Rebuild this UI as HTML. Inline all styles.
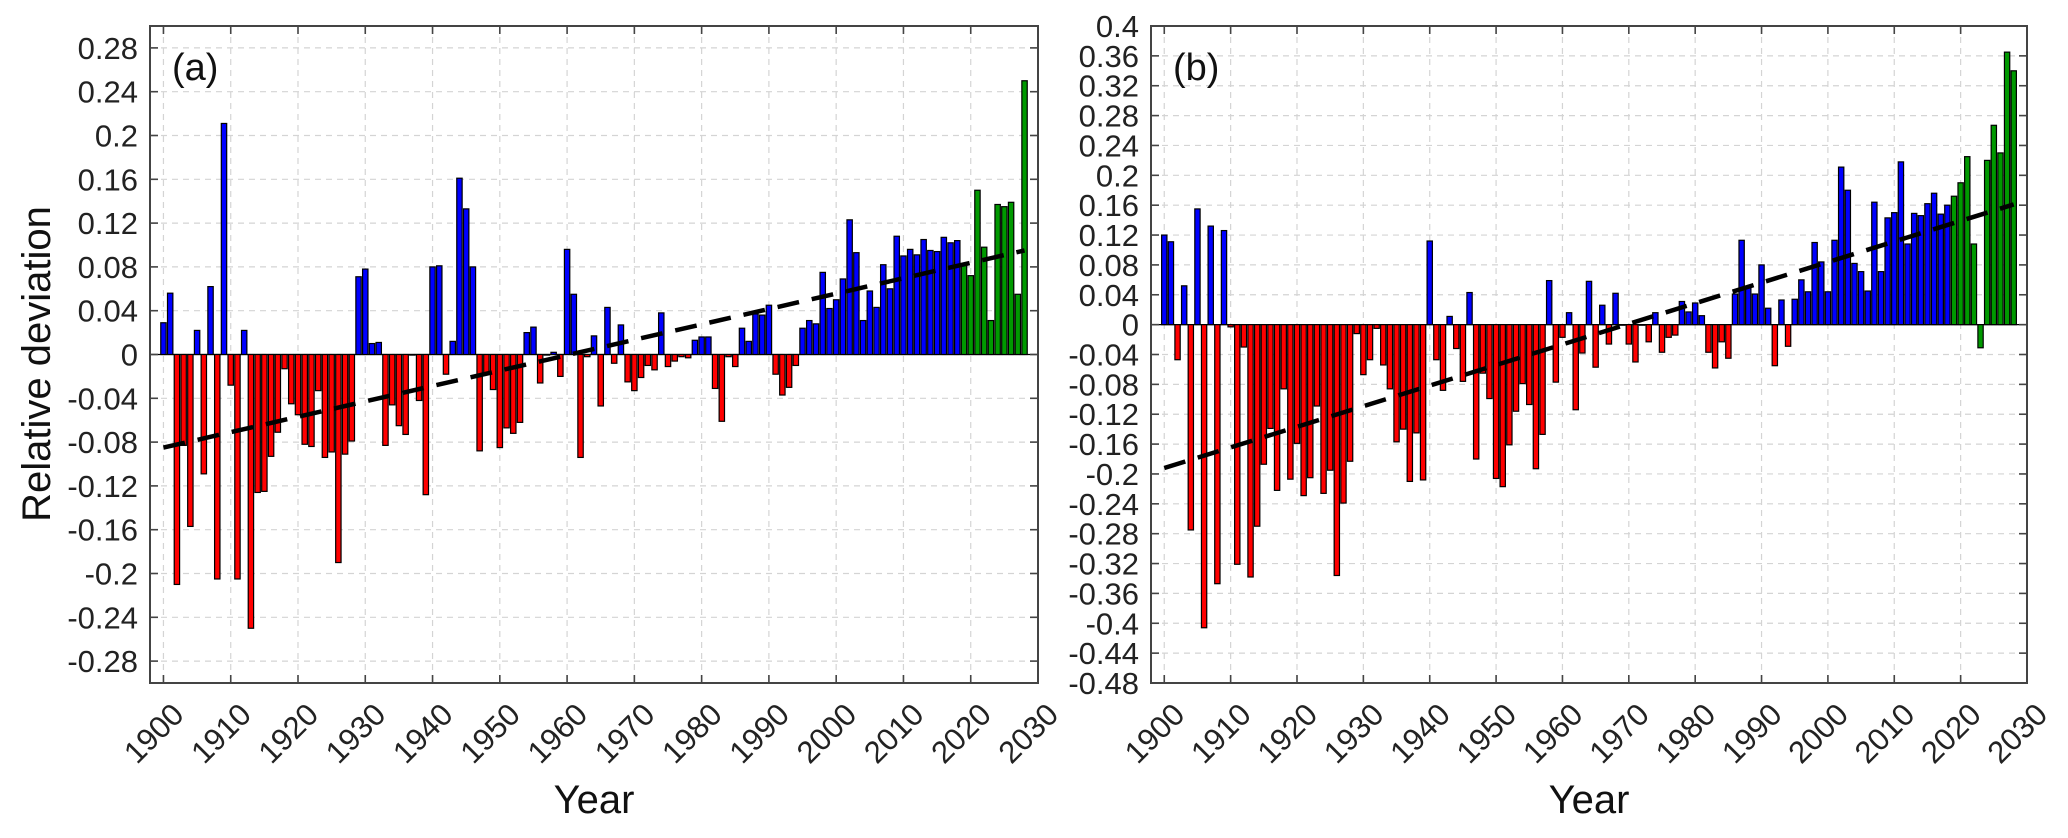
<!DOCTYPE html>
<html><head><meta charset="utf-8">
<style>
html,body{margin:0;padding:0;background:#fff;}
svg{display:block;font-family:"Liberation Sans",sans-serif;}
</style></head>
<body>
<svg id="fig" width="2068" height="838" viewBox="0 0 2068 838" xmlns="http://www.w3.org/2000/svg"></svg>
<script>
const years = [];
for (let y = 1900; y <= 2028; y++) years.push(y);
const greenStart = 2019;
const xTickYears = [1900,1910,1920,1930,1940,1950,1960,1970,1980,1990,2000,2010,2020,2030];
const xTickLabels = ["1900","1910","1920","1930","1940","1950","1960","1970","1980","1990","2000","2010","2020","2030"];
const valuesA = [
0.029,0.056,-0.21,-0.083,-0.157,0.022,-0.109,0.062,-0.205,0.211,
-0.028,-0.205,0.022,-0.25,-0.126,-0.125,-0.093,-0.071,-0.013,-0.045,
-0.055,-0.082,-0.084,-0.033,-0.094,-0.089,-0.19,-0.091,-0.079,0.071,
0.078,0.010,0.011,-0.083,-0.046,-0.065,-0.073,0.0,-0.042,-0.128,
0.080,0.081,-0.018,0.012,0.161,0.133,0.080,-0.088,-0.017,-0.032,
-0.085,-0.067,-0.072,-0.062,0.020,0.025,-0.026,0.0,0.002,-0.020,
0.096,0.055,-0.094,-0.002,0.017,-0.047,0.043,-0.008,0.027,-0.025,
-0.033,-0.021,-0.010,-0.014,0.038,-0.011,-0.006,-0.002,-0.003,0.013,
0.016,0.016,-0.031,-0.061,-0.002,-0.011,0.024,0.012,0.037,0.036,
0.045,-0.018,-0.037,-0.030,-0.010,0.024,0.031,0.028,0.075,0.042,
0.050,0.069,0.123,0.093,0.031,0.058,0.043,0.082,0.060,0.108,
0.090,0.096,0.091,0.105,0.095,0.094,0.107,0.102,0.104,0.082,
0.072,0.150,0.098,0.031,0.137,0.135,0.139,0.055,0.250];
const valuesB = [
0.120,0.111,-0.047,0.052,-0.275,0.155,-0.406,0.132,-0.347,0.126,
-0.003,-0.321,-0.030,-0.338,-0.270,-0.187,-0.139,-0.222,-0.086,-0.207,
-0.159,-0.229,-0.205,-0.109,-0.226,-0.195,-0.336,-0.239,-0.183,-0.012,
-0.067,-0.047,-0.005,-0.054,-0.086,-0.157,-0.140,-0.210,-0.145,-0.208,
0.112,-0.047,-0.088,0.011,-0.032,-0.076,0.043,-0.180,-0.065,-0.099,
-0.206,-0.217,-0.161,-0.116,-0.079,-0.107,-0.193,-0.147,0.059,-0.077,
-0.017,0.016,-0.114,-0.038,0.058,-0.057,0.026,-0.026,0.042,0.0,
-0.026,-0.050,0.0,-0.023,0.016,-0.037,-0.017,-0.014,0.031,0.017,
0.029,0.012,-0.037,-0.058,-0.023,-0.045,0.041,0.113,0.051,0.041,
0.080,0.022,-0.055,0.033,-0.029,0.034,0.060,0.044,0.110,0.084,
0.044,0.113,0.211,0.180,0.082,0.071,0.045,0.164,0.071,0.143,
0.150,0.218,0.108,0.149,0.146,0.162,0.176,0.148,0.160,0.172,
0.190,0.225,0.108,-0.031,0.220,0.267,0.230,0.365,0.340];
const trendYears = [1900, 2028];
const trendA = [-0.085, 0.095];
const trendB = [-0.192, 0.161];
const yTicksA = [-0.28,-0.24,-0.2,-0.16,-0.12,-0.08,-0.04,0,0.04,0.08,0.12,0.16,0.2,0.24,0.28];
const yTickLabelsA = ["-0.28","-0.24","-0.2","-0.16","-0.12","-0.08","-0.04","0","0.04","0.08","0.12","0.16","0.2","0.24","0.28"];
const yTicksB = [-0.48,-0.44,-0.4,-0.36,-0.32,-0.28,-0.24,-0.2,-0.16,-0.12,-0.08,-0.04,0,0.04,0.08,0.12,0.16,0.2,0.24,0.28,0.32,0.36,0.4];
const yTickLabelsB = ["-0.48","-0.44","-0.4","-0.36","-0.32","-0.28","-0.24","-0.2","-0.16","-0.12","-0.08","-0.04","0","0.04","0.08","0.12","0.16","0.2","0.24","0.28","0.32","0.36","0.4"];

const NS = "http://www.w3.org/2000/svg";
const svg = document.getElementById("fig");
function mk(tag, attrs, parent) {
  const e = document.createElementNS(NS, tag);
  for (const k in attrs) e.setAttribute(k, attrs[k]);
  (parent || svg).appendChild(e);
  return e;
}

function panel(id, box, yMin, yMax, values, trend, yTicks, yLabels, letter) {
  const g = mk("g", {});
  
  
  const xMin = 1898, xMax = 2030;
  const xs = v => box.l + (v - xMin) / (xMax - xMin) * (box.r - box.l);
  const ys = v => box.t + (yMax - v) / (yMax - yMin) * (box.b - box.t);
  // grid
  const grid = mk("g", {stroke: "#d4d4d4", "stroke-width": 1.2, "stroke-dasharray": "6 5"}, g);
  
  
  yTicks.forEach(t => mk("line", {x1: box.l, x2: box.r, y1: ys(t), y2: ys(t)}, grid));
  xTickYears.forEach(t => mk("line", {x1: xs(t), x2: xs(t), y1: box.t, y2: box.b}, grid));
  // zero line
  const zl = mk("line", {x1: box.l, x2: box.r, y1: ys(0), y2: ys(0), stroke: "#000", "stroke-width": 1.3}, g);
  
  
  // bars
  const bw = (box.r - box.l) / (xMax - xMin) * 0.8;
  const bars = mk("g", {stroke: "#000", "stroke-width": 1.2}, g);
  
  
  values.forEach((v, i) => {
    const yr = years[i];
    const fill = yr >= greenStart ? "#009900" : (v < 0 ? "#ff0000" : "#0000ff");
    const y0 = ys(0), y1 = ys(v);
    const r = mk("rect", {x: xs(yr) - bw / 2, y: Math.min(y0, y1), width: bw, height: Math.max(Math.abs(y1 - y0), 0.6), fill: fill}, bars);
    
    
  });
  // trend
  const tl = mk("line", {x1: xs(trendYears[0]), y1: ys(trend[0]), x2: xs(trendYears[1]), y2: ys(trend[1]), stroke: "#000", "stroke-width": 4.5, "stroke-dasharray": "22 13"}, g);
  
  
  // axes box
  const bx = mk("rect", {x: box.l, y: box.t, width: box.r - box.l, height: box.b - box.t, fill: "none", stroke: "#444", "stroke-width": 2}, g);
  
  
  const ticks = mk("g", {stroke: "#444", "stroke-width": 1.6}, g);
  
  
  yTicks.forEach(t => {
    mk("line", {x1: box.l, x2: box.l + 8, y1: ys(t), y2: ys(t)}, ticks);
    mk("line", {x1: box.r - 8, x2: box.r, y1: ys(t), y2: ys(t)}, ticks);
  });
  xTickYears.forEach(t => {
    mk("line", {x1: xs(t), x2: xs(t), y1: box.t, y2: box.t + 8}, ticks);
    mk("line", {x1: xs(t), x2: xs(t), y1: box.b - 8, y2: box.b}, ticks);
  });
  // y tick labels
  const yl = mk("g", {"font-size": 31, fill: "#222", "text-anchor": "end"}, g);
  
  
  yTicks.forEach((t, i) => {
    const tx = mk("text", {x: box.l - 12, y: ys(t) + 11}, yl);
    tx.textContent = yLabels[i];
  });
  // x tick labels
  const xl = mk("g", {"font-size": 31, fill: "#222", "text-anchor": "middle"}, g);
  
  
  xTickYears.forEach((t, i) => {
    const cx = xs(t) - 10, cy = 733;
    const tx = mk("text", {x: cx, y: cy + 11, transform: `rotate(-45 ${cx} ${cy})`}, xl);
    tx.textContent = xTickLabels[i];
  });
  // x title
  const xt = mk("text", {x: (box.l + box.r) / 2, y: 813, "font-size": 40, "text-anchor": "middle", fill: "#111"}, g);
  xt.textContent = "Year";
  
  
  // panel letter
  const lt = mk("text", {x: box.l + 22, y: 80, "font-size": 38, fill: "#111"}, g);
  lt.textContent = letter;
  
  
}

panel("a", {l: 150, r: 1038, t: 26, b: 683}, -0.30, 0.30, valuesA, trendA, yTicksA, yTickLabelsA, "(a)");
panel("b", {l: 1151, r: 2027, t: 26, b: 683}, -0.48, 0.40, valuesB, trendB, yTicksB, yTickLabelsB, "(b)");

const yt = mk("text", {x: 0, y: 0, "font-size": 40, "text-anchor": "middle", fill: "#111", transform: "translate(50 364) rotate(-90)"});
yt.textContent = "Relative deviation";


</script>
</body></html>
